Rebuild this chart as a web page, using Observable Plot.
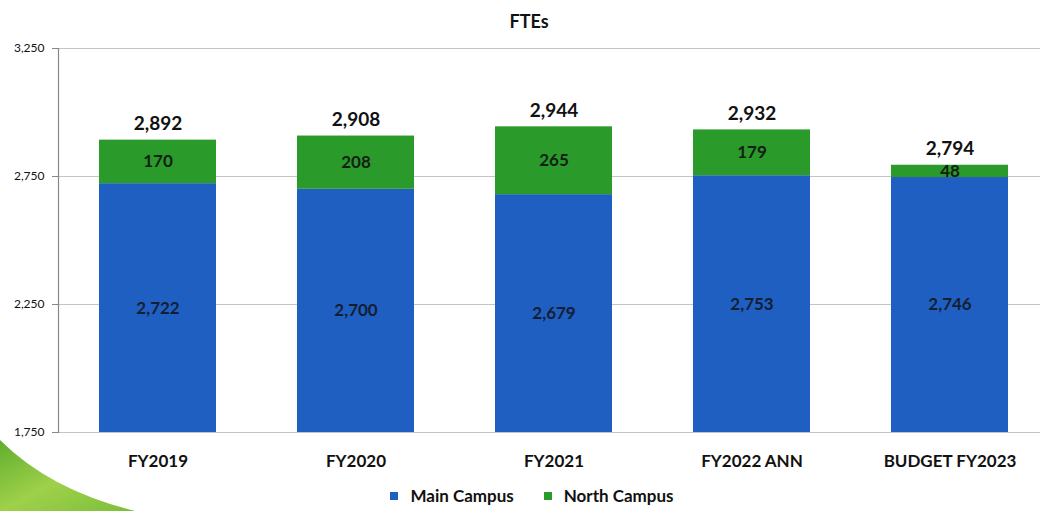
<!DOCTYPE html>
<html>
<head>
<meta charset="utf-8">
<script src="https://cdn.jsdelivr.net/npm/d3@7"></script>
<script src="https://cdn.jsdelivr.net/npm/@observablehq/plot@0.6"></script>
<style>
  html, body { margin: 0; padding: 0; background: #fff; width: 1040px; height: 511px; overflow: hidden; font-family: Lato, "Open Sans", sans-serif; }
  #wrap { position: relative; width: 1040px; height: 511px; }
  #swoosh { position: absolute; left: 0; top: 0; z-index: 0; }
  #title { position: relative; z-index: 1; height: 40px; line-height: 42px; text-align: center; font-weight: bold; font-size: 18px; color: #111; padding-left: 18px; }
  #chart { position: relative; z-index: 1; }
  #chart svg { background: transparent !important; }
  #legend { position: relative; z-index: 1; display: flex; justify-content: center; align-items: center; gap: 30px; height: 31px; font-weight: bold; font-size: 17px; color: #111; padding-left: 24px; }
  .item { display: flex; align-items: center; gap: 12px; }
  .sw { width: 8px; height: 8px; display: inline-block; }
</style>
</head>
<body>
<div id="wrap">
  <svg id="swoosh" width="1040" height="511">
    <defs>
      <linearGradient id="g" x1="0" y1="0" x2="1" y2="1">
        <stop offset="0" stop-color="#5fae2e"/>
        <stop offset="0.5" stop-color="#9fd04a"/>
        <stop offset="1" stop-color="#7cbf3a"/>
      </linearGradient>
    </defs>
    <path d="M0,440 Q50,490 135,511 L0,511 Z" fill="url(#g)"/>
  </svg>
  <div id="title">FTEs</div>
  <div id="chart"></div>
  <div id="legend"></div>
</div>
<script>
const categories = ["FY2019", "FY2020", "FY2021", "FY2022 ANN", "BUDGET FY2023"];
const mainCampus = [2722, 2700, 2679, 2753, 2746];
const northCampus = [170, 208, 265, 179, 48];
const totals = [2892, 2908, 2944, 2932, 2794];
const yTicks = [1750, 2250, 2750, 3250];
const seriesNames = ["Main Campus", "North Campus"];
const colors = ["#1f5fc2", "#2a9a2a"];

const yMin = yTicks[0], yMax = yTicks[yTicks.length - 1];
const rows = categories.map((c, i) => ({cat: c, main: mainCampus[i], north: northCampus[i], total: totals[i]}));
const fmt = d3.format(",d");

const chart = Plot.plot({
  width: 1040,
  height: 440,
  marginTop: 8,
  marginBottom: 48,
  marginLeft: 58,
  marginRight: 0,
  style: {fontFamily: "Lato, 'Open Sans', sans-serif", background: "transparent"},
  x: {domain: categories, range: [58, 1048], paddingInner: 0.41, paddingOuter: 0.205, label: null},
  y: {domain: [yMin, yMax], label: null},
  marks: [
    Plot.gridY(yTicks, {stroke: "#c4c4c4", strokeOpacity: 1, strokeWidth: 1.2}),
    Plot.frame({anchor: "left", stroke: "#888", strokeWidth: 1.2}),
    Plot.axisY({ticks: yTicks, tickFormat: fmt, tickSize: 6, tickPadding: 8, fontSize: 12, stroke: "#888", fill: "#111", label: null}),
    Plot.axisX({tickSize: 0, tickPadding: 22, fontSize: 17, fontWeight: "bold", fill: "#111", label: null}),
    Plot.barY(rows, {x: "cat", y1: () => yMin, y2: "main", fill: colors[0]}),
    Plot.barY(rows, {x: "cat", y1: "main", y2: "total", fill: colors[1]}),
    Plot.text(rows, {x: "cat", y: d => (yMin + d.main) / 2, text: d => fmt(d.main), fontSize: 17, fontWeight: "bold", fill: "#141e33"}),
    Plot.text(rows, {x: "cat", y: d => (d.main + d.total) / 2, text: d => fmt(d.north), fontSize: 17, fontWeight: "bold", fill: "#142014"}),
    Plot.text(rows, {x: "cat", y: "total", dy: -16, text: d => fmt(d.total), fontSize: 19, fontWeight: "bold", fill: "#111"})
  ]
});
document.getElementById("chart").appendChild(chart);

const legend = document.getElementById("legend");
seriesNames.forEach((n, i) => {
  const it = document.createElement("div");
  it.className = "item";
  const sw = document.createElement("span");
  sw.className = "sw";
  sw.style.background = colors[i];
  const t = document.createElement("span");
  t.textContent = n;
  it.appendChild(sw); it.appendChild(t);
  legend.appendChild(it);
});
</script>
</body>
</html>
